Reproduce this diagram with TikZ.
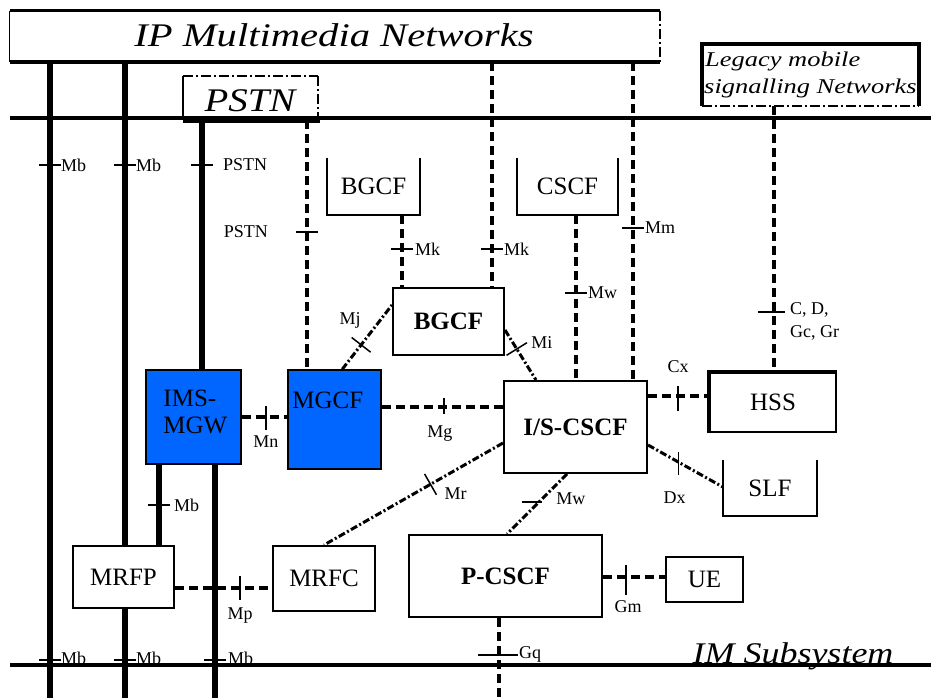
\documentclass[tikz,border=0pt]{standalone}
\usepackage{fontspec}
\setmainfont{Liberation Serif}
\usepackage{graphicx}
\usetikzlibrary{calc}
\definecolor{imsblue}{RGB}{0,102,255}
\newcommand{\widetext}[2]{\scalebox{#1}[1]{#2}}
\begin{document}
\begin{tikzpicture}[x=1pt,y=-1pt,
  thickline/.style={line width=5.5pt},
  hline/.style={line width=4pt},
  dline/.style={line width=3.5pt, dash pattern=on 9pt off 5pt},
  diagline/.style={line width=3pt, dash pattern=on 7pt off 2.5pt on 2pt off 2.5pt},
  dashdotline/.style={line width=2pt, dash pattern=on 10pt off 3pt on 2pt off 3pt},
  tickline/.style={line width=1.5pt},
  netbox/.style={draw, line width=2pt, fill=white, inner sep=0pt, font=\fontsize{25}{28}\selectfont},
  boldbox/.style={netbox, font=\fontsize{25}{28}\selectfont\bfseries},
  bluebox/.style={netbox, fill=imsblue, line width=1.5pt},
  openbox/.style={inner sep=0pt, font=\fontsize{25}{28}\selectfont},
  ifc/.style={inner sep=0pt, font=\fontsize{18}{21}\selectfont},
  bigital/.style={inner sep=0pt, font=\fontsize{33}{36}\selectfont\itshape},
  htick/.pic={\draw[line width=1.5pt] (-11,0) -- (11,0);},
  vtick/.pic={\draw[line width=1.5pt] (0,-12) -- (0,12);},
]
\fill[white] (0,0) rectangle (931,698);
\useasboundingbox (0,0) rectangle (931,698);

% ---------- frames of the outer networks ----------
\node[minimum width=650pt, minimum height=51pt, inner sep=0pt] (ipmm) at (335,36.5) {};
\node[bigital, anchor=base] (ipmmt) at (334,47) {\widetext{1.23}{IP Multimedia Networks}};
\draw[line width=3pt] (ipmm.north west) -- (ipmm.north east);
\draw[line width=4pt] (ipmm.south west) -- (ipmm.south east);
\draw[line width=1.2pt] (ipmm.north west) -- (ipmm.south west);
\draw[dashdotline] (ipmm.north east) -- (ipmm.south east);

\node[minimum width=135pt, minimum height=44pt, inner sep=0pt] (pstn) at (250.5,98) {};
\node[bigital, anchor=base] (pstnt) at (250,112) {\widetext{1.18}{PSTN}};
\draw[dashdotline] (pstn.north west) -- (pstn.north east);
\draw[line width=2pt] (pstn.north west) -- (pstn.south west);
\draw[dashdotline] (pstn.north east) -- (pstn.south east);

\node[minimum width=217pt, minimum height=62pt, inner sep=0pt] (legacy) at (810.5,75) {};
\node[inner sep=0pt, anchor=base west, font=\fontsize{21}{27}\selectfont\itshape] (legacyt1) at (705,67) {\widetext{1.26}{Legacy mobile}};
\node[inner sep=0pt, anchor=base west, font=\fontsize{21}{27}\selectfont\itshape] (legacyt2) at (704,94) {\widetext{1.26}{signalling Networks}};
\draw[line width=4pt] (legacy.south west) -- (legacy.north west) -- (legacy.north east) -- (legacy.south east);
\draw[dashdotline] (legacy.south west) -- (legacy.south east);

% ---------- functional boxes ----------
\node[openbox, minimum width=93pt, minimum height=57pt] (bgcfu) at (373.5,186.5) {BGCF};
\draw[line width=1.5pt] (bgcfu.north west) -- (bgcfu.south west) -- (bgcfu.south east) -- (bgcfu.north east);
\node[openbox, minimum width=101pt, minimum height=57pt] (cscfu) at (567.5,186.5) {CSCF};
\draw[line width=1.5pt] (cscfu.north west) -- (cscfu.south west) -- (cscfu.south east) -- (cscfu.north east);
\node[openbox, minimum width=94pt, minimum height=56pt] (slf) at (770,488) {SLF};
\draw[line width=1.5pt] (slf.north west) -- (slf.south west) -- (slf.south east) -- (slf.north east);

\node[boldbox, minimum width=111pt, minimum height=67pt] (bgcf) at (448.5,321.5) {BGCF};
\node[bluebox, minimum width=95pt, minimum height=94pt,
  label={[anchor=north west, inner sep=0pt, align=left, font=\fontsize{25}{27}\selectfont, xshift=18pt, yshift=-20pt]north west:{IMS-\\MGW}}] (imsmgw) at (193.5,417) {};
\node[bluebox, minimum width=93pt, minimum height=99pt,
  label={[anchor=north west, inner sep=0pt, font=\fontsize{25}{27}\selectfont, xshift=5pt, yshift=-22pt]north west:MGCF}] (mgcf) at (334.5,419.5) {};
\node[boldbox, minimum width=143pt, minimum height=92pt] (iscscf) at (575.5,427) {I/S-CSCF};
\node[netbox, minimum width=126pt, minimum height=59pt] (hss) at (773,402.5) {HSS};
\draw[line width=4pt] (hss.south west) -- (hss.north west) -- (hss.north east);
\node[netbox, minimum width=101pt, minimum height=62pt] (mrfp) at (123.5,577) {MRFP};
\node[netbox, minimum width=102pt, minimum height=65pt] (mrfc) at (324,578.5) {MRFC};
\node[boldbox, minimum width=193pt, minimum height=82pt] (pcscf) at (505.5,576) {P-CSCF};
\node[netbox, minimum width=77pt, minimum height=45pt] (ue) at (704.5,579.5) {UE};

% ---------- helper coordinates ----------
\coordinate (h1w) at (10,118); \coordinate (h1e) at (931,118);
\coordinate (h2w) at (10,665); \coordinate (h2e) at (931,665);
\coordinate (b50) at (50,698); \coordinate (b125) at (125,698);
\coordinate (b215) at (215,698); \coordinate (b499) at (499,698);
\coordinate (x159) at (159,0); \coordinate (x202) at (202,0);
\coordinate (x307) at (307,0); \coordinate (x402) at (402,0);
\coordinate (x492) at (492,0); \coordinate (x576) at (576,0);
\coordinate (x633) at (633,0); \coordinate (x774) at (774,0);

% ---------- bearer (solid) connections ----------
\draw[hline] (h1w) -- (h1e);
\draw[thickline] (ipmm.south -| b50) -- (b50);
\draw[thickline] (ipmm.south -| b125) -- (mrfp.north -| b125);
\draw[thickline] (mrfp.south -| b125) -- (b125);
\draw[line width=6pt] (pstn.south west) -- ([shift={(2,0)}]pstn.south east);
\draw[thickline] (pstn.south -| x202) -- (imsmgw.north -| x202);
\draw[thickline] (imsmgw.south -| x159) -- (mrfp.north -| x159);
\draw[thickline] (imsmgw.south -| b215) -- (b215);

% ---------- signalling (dashed) connections ----------
\draw[dline] (pstn.south -| x307) -- (mgcf.north -| x307);
\draw[dline] (ipmm.south -| x492) -- (bgcf.north -| x492);
\draw[dline] (ipmm.south -| x633) -- (iscscf.north -| x633);
\draw[dline] (bgcfu.south -| x402) -- (bgcf.north -| x402);
\draw[dline] (cscfu.south -| x576) -- (iscscf.north -| x576);
\draw[dline] (legacy.south -| x774) -- (hss.north -| x774);
\draw[dline] (pcscf.south -| b499) -- (b499);

\coordinate (mnA) at (imsmgw.east);
\draw[dline] (mnA) -- (mnA -| mgcf.west);
\coordinate (mgA) at ([shift={(0,-12.5)}]mgcf.east);
\draw[dline] (mgA) -- (mgA -| iscscf.west);
\coordinate (cxA) at ([shift={(0,-31)}]iscscf.east);
\draw[dline] (cxA) -- (cxA -| hss.west);
\coordinate (mpA) at ([shift={(0,11)}]mrfp.east);
\draw[dline] (mpA) -- (mpA -| mrfc.west);
\coordinate (gmA) at ([shift={(0,1)}]pcscf.east);
\draw[dline] (gmA) -- (gmA -| ue.west);

\coordinate (mjA) at ([shift={(55,0)}]mgcf.north west);
\coordinate (mjB) at ([shift={(0,-16.5)}]bgcf.west);
\draw[diagline] (mjA) -- (mjB);
\coordinate (miA) at ([shift={(0,8.5)}]bgcf.east);
\coordinate (miB) at ([shift={(33,0)}]iscscf.north west);
\draw[diagline] (miA) -- (miB);
\coordinate (mrA) at ([shift={(0,16)}]iscscf.west);
\coordinate (mrB) at ([shift={(52,0)}]mrfc.north west);
\draw[diagline] (mrA) -- (mrB);
\coordinate (mwA) at ([shift={(64,0)}]iscscf.south west);
\coordinate (mwB) at ([shift={(99,0)}]pcscf.north west);
\draw[diagline] (mwA) -- (mwB);
\coordinate (dxA) at ([shift={(0,18)}]iscscf.east);
\coordinate (dxB) at ([shift={(0,-1)}]slf.west);
\draw[diagline] (dxA) -- (dxB);

% ---------- reference point ticks ----------
\coordinate (tMb1) at (50,165);  \pic at (tMb1) {htick};
\coordinate (tMb2) at (125,165); \pic at (tMb2) {htick};
\coordinate (tPS1) at (202,165); \pic at (tPS1) {htick};
\coordinate (tPS2) at (307,232); \pic at (tPS2) {htick};
\coordinate (tMk1) at (402,249); \pic at (tMk1) {htick};
\coordinate (tMk2) at (492,249); \pic at (tMk2) {htick};
\coordinate (tMm) at (633,228);  \pic at (tMm) {htick};
\coordinate (tMw1) at (576,293); \pic at (tMw1) {htick};
\coordinate (tCD) at (774,312);
\draw[tickline] ([shift={(-16,0)}]tCD) -- ([shift={(11,0)}]tCD);
\coordinate (tMb3) at (159,505); \pic at (tMb3) {htick};
\coordinate (tMb4) at (50,660);  \pic at (tMb4) {htick};
\coordinate (tMb5) at (125,660); \pic at (tMb5) {htick};
\coordinate (tMb6) at (215,660); \pic at (tMb6) {htick};
\coordinate (tGq) at (499,655);
\draw[tickline] ([shift={(-21,0)}]tGq) -- ([shift={(19,0)}]tGq);

\coordinate (tMn) at ([shift={(24,1)}]mnA); \pic at (tMn) {vtick};
\coordinate (tMg) at ([shift={(62,0)}]mgA);
\draw[tickline] ([shift={(0,-9)}]tMg) -- ([shift={(0,7)}]tMg);
\coordinate (tCx) at ([shift={(30,0)}]cxA);
\draw[tickline] ([shift={(0,-10)}]tCx) -- ([shift={(0,15)}]tCx);
\coordinate (tMp) at ([shift={(65,0)}]mpA);  \pic at (tMp) {vtick};
\coordinate (tGm) at ([shift={(23,0)}]gmA);
\draw[tickline] ([shift={(0,-12)}]tGm) -- ([shift={(0,18)}]tGm);

\coordinate (tMj) at ($(mjA)!0.38!(mjB)$);
\draw[tickline] ($(tMj)!12pt!90:(mjB)$) -- ($(tMj)!12pt!-90:(mjB)$);
\coordinate (tMi) at ($(miA)!0.38!(miB)$);
\draw[tickline] ($(tMi)!12pt!90:(miB)$) -- ($(tMi)!12pt!-90:(miB)$);
\coordinate (tMr) at ($(mrA)!0.405!(mrB)$);
\draw[tickline] ($(tMr)!12pt!90:(mrB)$) -- ($(tMr)!12pt!-90:(mrB)$);
\coordinate (tMw2) at ($(mwA)!0.47!(mwB)$);
\draw[tickline] ([shift={(-17,0)}]tMw2) -- ([shift={(3,0)}]tMw2);
\coordinate (tDx) at ($(dxA)!0.41!(dxB)$);
\draw[tickline] ([shift={(0,-10)}]tDx) -- ([shift={(0,13)}]tDx);

% ---------- reference point labels ----------
\node[ifc, anchor=west] (lMb1) at ([shift={(11,0)}]tMb1) {Mb};
\node[ifc, anchor=west] (lMb2) at ([shift={(11,0)}]tMb2) {Mb};
\node[ifc, anchor=west] (lPS1) at ([shift={(21,0)}]tPS1) {PSTN};
\node[ifc, anchor=east] (lPS2) at ([shift={(-39,0)}]tPS2) {PSTN};
\node[ifc, anchor=west] (lMk1) at ([shift={(13,0)}]tMk1) {Mk};
\node[ifc, anchor=west] (lMk2) at ([shift={(12,0)}]tMk2) {Mk};
\node[ifc, anchor=west] (lMm) at ([shift={(12,0)}]tMm) {Mm};
\node[ifc, anchor=west] (lMw1) at ([shift={(12,0)}]tMw1) {Mw};
\node[ifc, anchor=north west, align=left, font=\fontsize{18}{23}\selectfont] (lCD) at ([shift={(16,-10)}]tCD) {C, D,\\Gc, Gr};
\node[ifc, anchor=west] (lMb3) at ([shift={(15,0)}]tMb3) {Mb};
\node[ifc, anchor=west] (lMb4) at ([shift={(11,-2)}]tMb4) {Mb};
\node[ifc, anchor=west] (lMb5) at ([shift={(11,-2)}]tMb5) {Mb};
\node[ifc, anchor=west] (lMb6) at ([shift={(13,-2)}]tMb6) {Mb};
\node[ifc, anchor=west] (lGq) at ([shift={(20,-1)}]tGq) {Gq};
\node[ifc] (lMn) at ([shift={(0,24)}]tMn) {Mn};
\node[ifc] (lMg) at ([shift={(-4,27)}]tMg) {Mg};
\node[ifc] (lCx) at ([shift={(0,-29)}]tCx) {Cx};
\node[ifc] (lMp) at ([shift={(0,28)}]tMp) {Mp};
\node[ifc] (lGm) at ([shift={(2,30)}]tGm) {Gm};
\node[ifc] (lDx) at ([shift={(-4,35)}]tDx) {Dx};
\node[ifc] (lMj) at ([shift={(-11,-24)}]tMj) {Mj};
\node[ifc] (lMi) at ([shift={(25,-6)}]tMi) {Mi};
\node[ifc] (lMr) at ([shift={(25,9)}]tMr) {Mr};
\node[ifc] (lMw2) at ([shift={(32,-4)}]tMw2) {Mw};

% ---------- IM subsystem border ----------
\node[inner sep=0pt, anchor=base, font=\fontsize{30}{33}\selectfont\itshape] (imst) at (793,663) {\widetext{1.2}{IM Subsystem}};
\draw[hline] (h2w) -- (h2e);
\end{tikzpicture}
\end{document}
